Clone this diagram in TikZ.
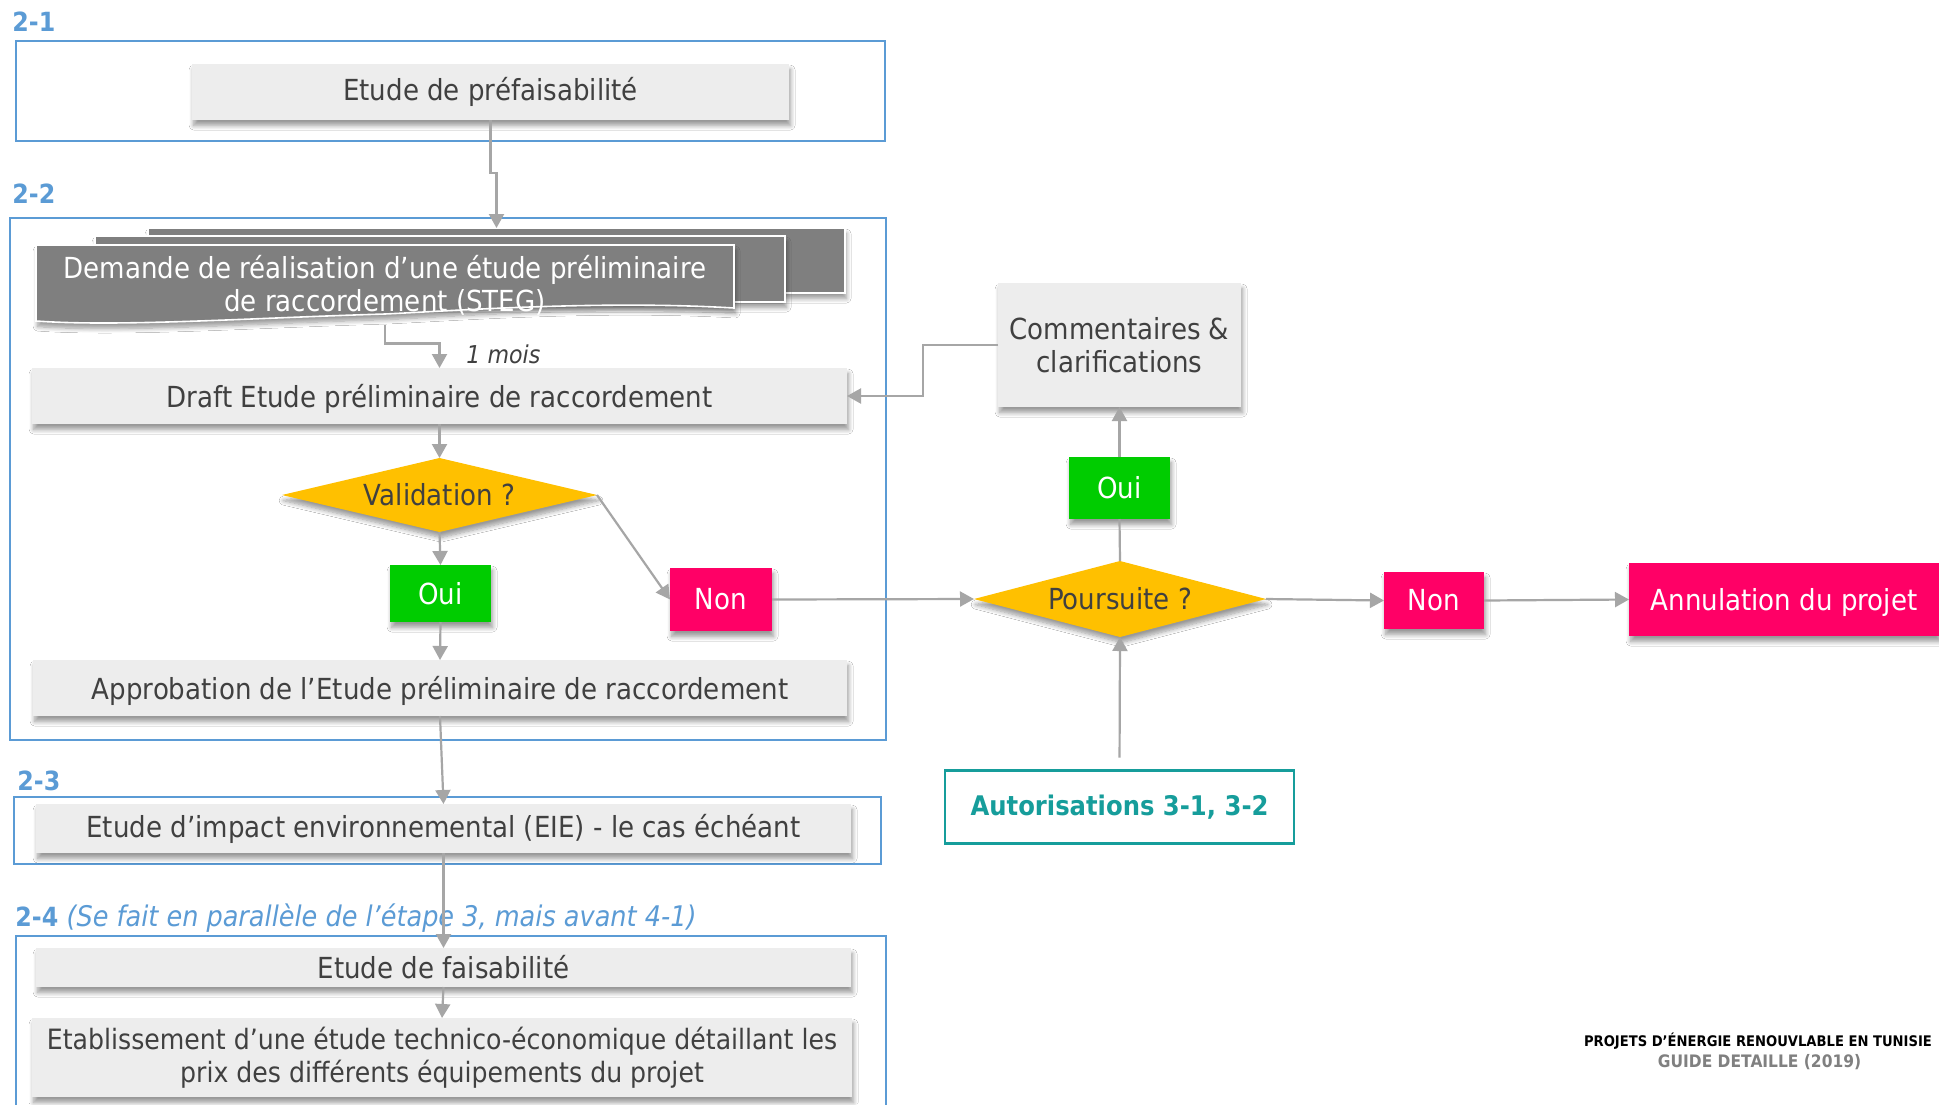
\documentclass[tikz,border=0pt]{standalone}
\usepackage{fontspec}
\setmainfont{DejaVu Sans}[FakeStretch=0.9]
\usetikzlibrary{arrows.meta,shapes.geometric,shadows.blur,calc}
\definecolor{nodegray}{HTML}{EDEDED}
\definecolor{txtgray}{HTML}{404040}
\definecolor{arrgray}{HTML}{A6A6A6}
\definecolor{frameblue}{HTML}{5B9BD5}
\definecolor{docgray}{HTML}{7F7F7F}
\definecolor{yel}{HTML}{FFC000}
\definecolor{grn}{HTML}{00CC00}
\definecolor{pnk}{HTML}{FF0066}
\definecolor{tealc}{HTML}{169D9B}
\tikzset{
  shad/.style={blur shadow={shadow xshift=0.8pt, shadow yshift=-2.8pt, shadow opacity=40, shadow blur steps=8, shadow blur radius=2.2pt}},
  mainfnt/.style={font=\fontsize{14.5}{16.8}\selectfont},
  gbox/.style={fill=nodegray, text=txtgray, inner sep=0pt, outer sep=0pt, align=center, shad, mainfnt},
  cbox/.style={fill=#1, text=white, inner sep=0pt, outer sep=0pt, align=center, shad, mainfnt},
  dec/.style={diamond, aspect=4.2, fill=yel, text=txtgray, inner sep=0pt, outer sep=0pt, shad, mainfnt},
  docbox/.style={fill=docgray, draw=white, line width=0.8pt, inner sep=0pt, outer sep=0pt, shad},
  framebox/.style={draw=frameblue, line width=1.1pt, inner sep=0pt, outer sep=0pt},
  arr/.style={draw=arrgray, line width=1.1pt, -{Triangle[width=7.5pt,length=7pt]}},
  lnk/.style={draw=arrgray, line width=1.1pt},
  lbl/.style={text=frameblue, font=\bfseries\fontsize{13.2}{15}\selectfont, anchor=west, inner sep=0pt},
  lowtxt/.style={text height=14.2pt, text depth=3pt},
}
\begin{document}
\begin{tikzpicture}[x=0.5pt,y=-0.5pt]
\useasboundingbox (0,0) rectangle (1939,1104);
\fill[white] (0,0) rectangle (1939,1104);

% frames
\node[framebox, minimum width=434.5pt, minimum height=50pt] (f21) at (450.5,91) {};
\node[framebox, minimum width=438pt, minimum height=261pt] (f22) at (448,479) {};
\node[framebox, minimum width=433.5pt, minimum height=33.5pt] (f23) at (447.5,830.5) {};
\draw[frameblue, line width=1.1pt] (16,1120) -- (16,936) -- (886,936) -- (886,1120);

% labels
\node[lbl] (l21) at (12,22) {2-1};
\node[lbl] (l22) at (12,194) {2-2};
\node[lbl] (l23) at (17,781) {2-3};
\node[lbl] (l24) at (15,918) {2-4 {\mdseries\itshape\fontsize{14.2}{16}\selectfont (Se fait en parallèle de l’étape 3, mais avant 4-1)}};

% 2-1
\node[gbox, minimum width=298.5pt, minimum height=28pt] (pref) at (490.5,92) {Etude de préfaisabilité};

% 2-2 multidocument
\node[docbox, minimum width=348.5pt, minimum height=32.5pt] (stegback) at (496.5,260.5) {};
\node[docbox, minimum width=345pt, minimum height=33pt] (stegmid) at (440,269) {};
\fill[docgray, draw=white, line width=0.8pt, shad] (36,245) -- (734,245) -- (734,308)
  .. controls (600,300) and (450,311) .. (385,314)
  .. controls (250,318) and (120,327) .. (36,321) -- cycle;
\node[text=white, inner sep=0pt, outer sep=0pt, align=center, mainfnt, minimum width=349pt, minimum height=39pt] (steg) at (385,285.5)
  {Demande de réalisation d’une étude préliminaire\\de raccordement (STEG)};
\node[text=txtgray, anchor=west, inner sep=0pt, font=\itshape\fontsize{12.3}{14}\selectfont] (mois) at (466,354) {1 mois};

\node[gbox, lowtxt, minimum width=407.5pt, minimum height=28pt] (draft) at (439.5,396) {Draft Etude préliminaire de raccordement};
\node[dec, minimum width=157.5pt, minimum height=37pt] (valid) at (439.5,495) {Validation ?};
\node[cbox=grn, minimum width=50.5pt, minimum height=28.5pt] (oui1) at (440.5,593.5) {Oui};
\node[cbox=pnk, minimum width=51pt, minimum height=31.5pt] (non1) at (721,599.5) {Non};
\node[gbox, lowtxt, minimum width=407pt, minimum height=28pt] (approb) at (440,688) {Approbation de l’Etude préliminaire de raccordement};

% 2-3
\node[gbox, minimum width=407.5pt, minimum height=24.5pt] (eie) at (443.5,828.5) {Etude d’impact environnemental (EIE) - le cas échéant};

% 2-4
\node[gbox, minimum width=407.5pt, minimum height=19.5pt] (faisab) at (443.5,967.5) {Etude de faisabilité};
\node[gbox, minimum width=410pt, minimum height=39.5pt, font=\fontsize{14}{16.6}\selectfont] (etabl) at (442,1057.5) {Etablissement d’une étude technico-économique détaillant les\\prix des différents équipements du projet};

% right side
\node[gbox, minimum width=121.5pt, minimum height=62pt] (comm) at (1119.5,345) {Commentaires \&\\clarifications};
\node[cbox=grn, minimum width=50.5pt, minimum height=31pt] (oui2) at (1119.5,488) {Oui};
\node[dec, minimum width=146pt, minimum height=38pt] (pours) at (1120,599) {Poursuite ?};
\node[cbox=pnk, minimum width=50pt, minimum height=28.5pt] (non2) at (1434,600.5) {Non};
\node[cbox=pnk, lowtxt, minimum width=155pt, minimum height=36.5pt] (annul) at (1784,599.5) {Annulation du projet};
\node[draw=tealc, line width=1.2pt, text=tealc, inner sep=0pt, outer sep=0pt, font=\bfseries\fontsize{13.5}{16}\selectfont, minimum width=174.5pt, minimum height=36.5pt] (autor) at (1119.5,807) {Autorisations 3-1, 3-2};

% footer
\node[inner sep=0pt, text=black, font=\bfseries\fontsize{7.3}{9}\selectfont] (ft1) at (1758,1041) {PROJETS D’ÉNERGIE RENOUVLABLE EN TUNISIE};
\node[inner sep=0pt, text=gray, font=\bfseries\fontsize{8.6}{10}\selectfont] (ft2) at (1759.5,1062) {GUIDE DETAILLE (2019)};

% connectors
\draw[arr] (pref.south) -- ++(0,53) -| (stegback.north);
\draw[arr] (steg.south) -- ++(0,19) -| (draft.north);
\draw[arr] (draft.south) -- (valid.north);
\draw[arr] (valid.south) -- (oui1.north);
\draw[arr] (oui1.south) -- (approb.north);
\draw[arr] (valid.east) -- (non1.west);
\draw[arr] (non1.east) -- (pours.west);
\draw[lnk] (pours.north) -- (oui2.south);
\draw[arr] (oui2.north) -- (comm.south);
\draw[arr] (comm.west) -- ++(-75,0) |- (draft.east);
\draw[arr] (pours.east) -- (non2.west);
\draw[arr] (non2.east) -- (annul.west);
\draw[arr, shorten <=6.5pt] (autor.north) -- (pours.south);
\draw[arr] (approb.south) -- (eie.north);
\draw[arr] (eie.south) -- (faisab.north);
\draw[arr] (faisab.south) -- (etabl.north);
\end{tikzpicture}
\end{document}
